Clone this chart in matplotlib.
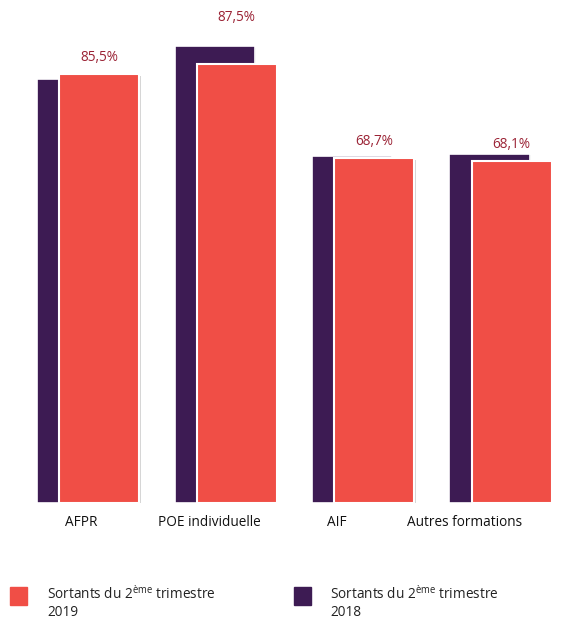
import matplotlib
matplotlib.use("Agg")
import matplotlib.pyplot as plt
from matplotlib.patches import Rectangle
import matplotlib.patheffects as pe

plt.rcParams['font.family'] = ['Open Sans', 'DejaVu Sans']
plt.rcParams['mathtext.fontset'] = 'custom'
plt.rcParams['mathtext.rm'] = 'Open Sans'

categories = ["AFPR", "POE individuelle", "AIF", "Autres formations"]
values_2019 = [85.5, 87.5, 68.7, 68.1]
values_2018 = [84.5, 91.1, 69.2, 69.6]
value_labels = ["85,5%", "87,5%", "68,7%", "68,1%"]
legend_line1 = "Sortants du 2$^{\\rm ème}$ trimestre"
legend_years = ["2019", "2018"]

RED = "#F04E46"
PURPLE = "#3D1B53"
LABEL_COLOR = "#9B2335"

W, H = 562, 621
fig = plt.figure(figsize=(W / 100, H / 100), dpi=100)
base_px = 503
ax = fig.add_axes([0, (H - base_px) / H, 1, base_px / H])
px_per_unit_x = 137.5
x0_px = 99
ax.set_xlim(-x0_px / px_per_unit_x, (W - x0_px) / px_per_unit_x)
px_per_pct = 429 / 85.5
ax.set_ylim(0, base_px / px_per_pct)
ax.axis("off")

bw = 80 / px_per_unit_x
off = 22 / px_per_unit_x
shadow = [pe.SimplePatchShadow(offset=(1.2, -1.2), shadow_rgbFace="#888888", alpha=0.35), pe.Normal()]

xs = list(range(len(categories)))
b1 = ax.bar([x - off for x in xs], values_2018, width=bw, color=PURPLE,
            edgecolor="white", linewidth=1.2, zorder=2)
b2 = ax.bar(xs, values_2019, width=bw, color=RED,
            edgecolor="white", linewidth=1.5, zorder=3)
for b in list(b1) + list(b2):
    b.set_path_effects(shadow)

FS = 9.8
for x, v, v18, t in zip(xs, values_2019, values_2018, value_labels):
    y = v + 17 / px_per_pct
    if v18 > y - 7 / px_per_pct:
        y = v18 + 28 / px_per_pct
    ax.text(x, y, t, ha="center", va="center", fontsize=FS, color=LABEL_COLOR)

for i, c in enumerate(categories):
    lx = -0.131 + 0.931 * i
    ax.text(lx, -20 / px_per_pct, c, ha="center", va="center",
            fontsize=FS, color="#111111", clip_on=False)

# legend
for (sx, tx), col, yr in zip([(10, 47), (294, 330)], [RED, PURPLE], legend_years):
    fig.patches.append(Rectangle((sx / W, 1 - 605 / H), 17 / W, 18 / H,
                                 transform=fig.transFigure, color=col))
    fig.text(tx / W, 1 - 599 / H, legend_line1, ha="left", va="baseline",
             fontsize=FS, color="#222222")
    fig.text(tx / W, 1 - 616 / H, yr, ha="left", va="baseline",
             fontsize=FS, color="#222222")

fig.savefig("out.png", dpi=100)
